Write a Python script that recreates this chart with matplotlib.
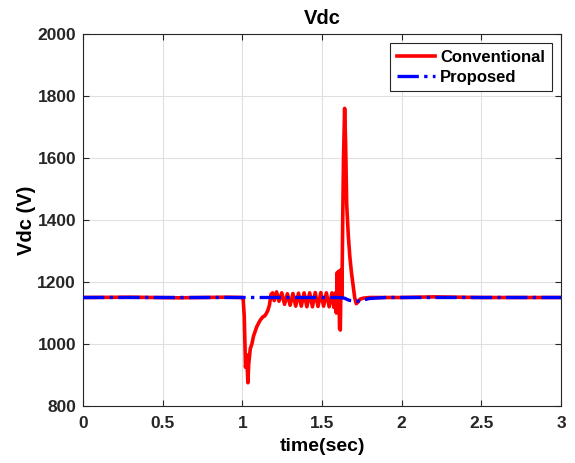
import matplotlib
matplotlib.use("Agg")
import matplotlib.pyplot as plt

plt.rcParams['font.family'] = ['Liberation Sans', 'DejaVu Sans']
plt.rcParams['font.weight'] = 'bold'

t_conv = [0.0, 0.3, 0.6, 0.9, 1.0, 1.005, 1.012, 1.02, 1.027, 1.035, 1.04, 1.045, 1.05, 1.06, 1.07,
          1.08, 1.09, 1.10, 1.11, 1.12, 1.13, 1.14, 1.15, 1.16, 1.17, 1.18, 1.19,
          1.2, 1.215, 1.23, 1.2475, 1.265, 1.2825, 1.30, 1.3175, 1.335, 1.3525, 1.37, 1.3875,
          1.405, 1.4225, 1.44, 1.4575, 1.475, 1.4925, 1.51, 1.5275, 1.545, 1.5625, 1.575, 1.585,
          1.59, 1.595, 1.60, 1.605, 1.61, 1.615, 1.62, 1.625, 1.63, 1.635, 1.642, 1.648, 1.655,
          1.665, 1.675, 1.685, 1.695, 1.705, 1.715, 1.725, 1.74, 1.76, 1.8, 2.0, 2.2, 2.5, 3.0]
v_conv = [1150, 1151, 1149, 1151, 1150, 1148, 1090, 925, 965, 875, 935, 960, 985, 1000, 1025,
          1040, 1055, 1065, 1075, 1082, 1088, 1090, 1098, 1108, 1125, 1160, 1165,
          1140, 1168, 1138, 1165, 1128, 1162, 1125, 1163, 1122, 1164, 1122, 1165,
          1120, 1165, 1120, 1166, 1121, 1166, 1122, 1165, 1120, 1165, 1118, 1165,
          1100, 1230, 1130, 1235, 1050, 1045, 1240, 1150, 1400, 1600, 1760, 1650, 1450,
          1350, 1280, 1230, 1190, 1150, 1130, 1135, 1145, 1148, 1150, 1150, 1152, 1150, 1150]

t_prop = [0.0, 1.0, 1.6, 1.64, 1.67, 1.72, 1.76, 1.8, 1.9, 2.5, 3.0]
v_prop = [1150, 1150, 1150, 1148, 1141, 1138, 1142, 1147, 1150, 1150, 1150]

x_ticks = [0, 0.5, 1, 1.5, 2, 2.5, 3]
x_labels = ["0", "0.5", "1", "1.5", "2", "2.5", "3"]
y_ticks = [800, 1000, 1200, 1400, 1600, 1800, 2000]

fig = plt.figure(figsize=(5.75, 4.63), dpi=100)
ax = fig.add_axes([0.1443, 0.1231, 0.8314, 0.8035])

ax.plot(t_conv, v_conv, color='#ff0000', lw=2.6, label='Conventional', zorder=3)
ax.plot(t_prop, v_prop, color='#0000ff', lw=2.4, ls='-.', label='Proposed', zorder=4)

ax.set_xlim(0, 3)
ax.set_ylim(800, 2000)
ax.set_xticks(x_ticks)
ax.set_xticklabels(x_labels)
ax.set_yticks(y_ticks)
ax.grid(True, color='#e0e0e0', lw=0.8)
ax.set_axisbelow(True)
ax.tick_params(direction='in', top=True, right=True, labelsize=12.5, colors='#262626',
               length=4, width=0.8)
ax.tick_params(axis='x', pad=7)
ax.tick_params(axis='y', pad=5)
for s in ax.spines.values():
    s.set_color('#262626')
    s.set_linewidth(0.8)
ax.set_xlabel('time(sec)', fontsize=14, fontweight='bold', labelpad=5)
ax.set_ylabel('Vdc (V)', fontsize=14.5, fontweight='bold', labelpad=1)
ax.set_title('Vdc', fontsize=14.5, fontweight='bold', pad=7)
leg = ax.legend(loc='upper right', fontsize=12, fancybox=False, framealpha=1,
                edgecolor='#262626', borderpad=0.4, handlelength=2.3, handletextpad=0.3,
                labelspacing=0.3, borderaxespad=0.55)
leg.get_frame().set_linewidth(0.8)

fig.savefig('out.png', dpi=100)
